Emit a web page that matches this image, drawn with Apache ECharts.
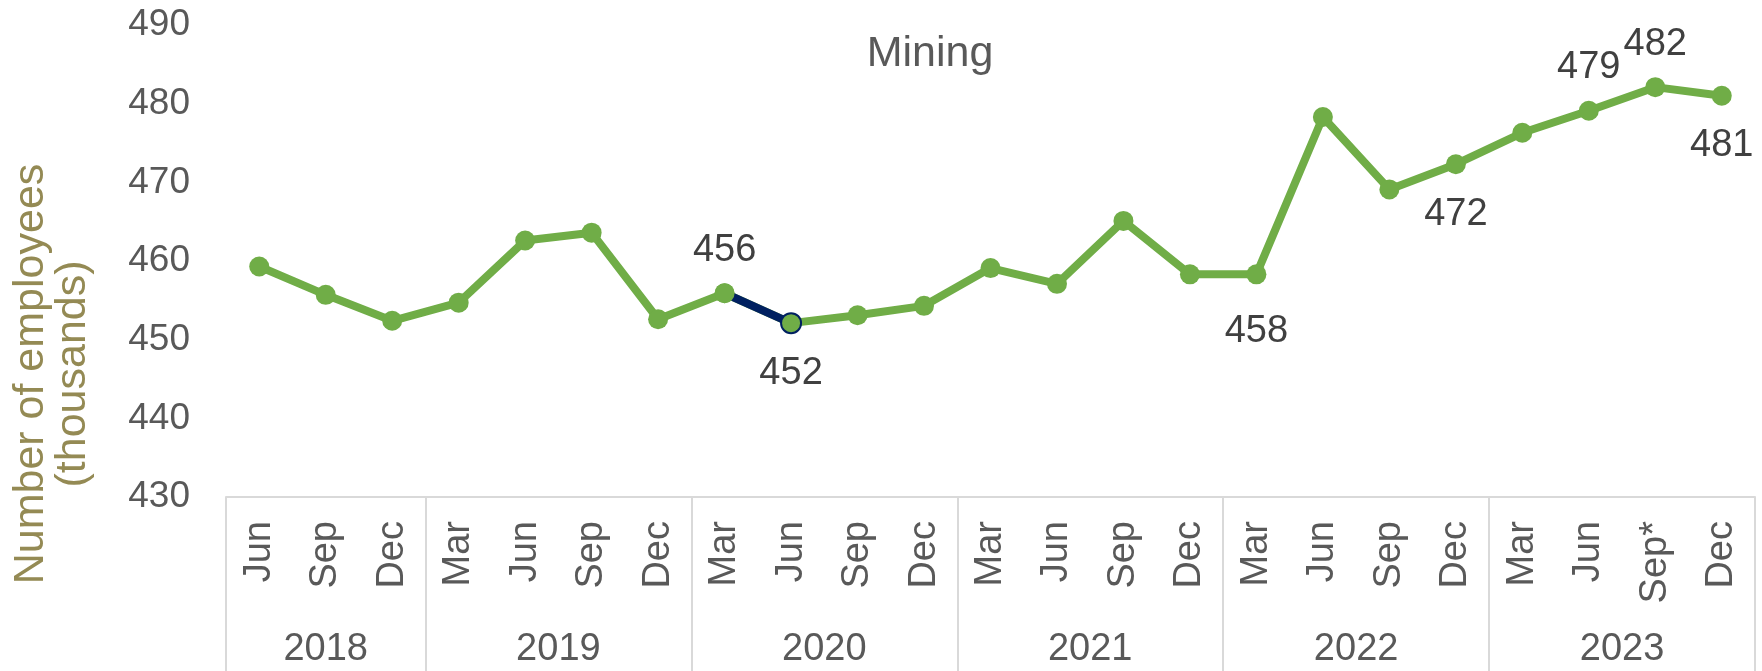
<!DOCTYPE html>
<html>
<head>
<meta charset="utf-8">
<title>Mining</title>
<script src="https://cdn.jsdelivr.net/npm/echarts@6/dist/echarts.min.js"></script>
<style>
	html, body { margin: 0; padding: 0; background: #fff; }
	#echartMain { width: 1762px; height: 671px; }
</style>
</head>
<body>
<div id="echartMain"></div>
<script>
// quarters, one per point
var months = ['Jun', 'Sep', 'Dec',
	'Mar', 'Jun', 'Sep', 'Dec',
	'Mar', 'Jun', 'Sep', 'Dec',
	'Mar', 'Jun', 'Sep', 'Dec',
	'Mar', 'Jun', 'Sep', 'Dec',
	'Mar', 'Jun', 'Sep*', 'Dec'];
var years = ['2018', '2019', '2020', '2021', '2022', '2023'];
var yearSizes = [3, 4, 4, 4, 4, 4];
// number of employees (thousands)
var employees = [459.3, 455.7, 452.4, 454.7, 462.6, 463.6, 452.6,
	455.9, 452.1, 453.1, 454.3,
	459.1, 457.1, 465.1, 458.3,
	458.3, 478.3, 469.1, 472.3,
	476.3, 479.1, 482.1, 481.0];
var yTicks = [430, 440, 450, 460, 470, 480, 490];
// labelled points and the shown value
var labelIdx = [7, 8, 15, 18, 20, 21, 22];
var labelText = ['456', '452', '458', '472', '479', '482', '481'];
// the highlighted segment (Mar 2020 -> Jun 2020)
var highlight = [7, 8];

(function(){

	init();

	function init(){
		initEchart();
	}

	function initEchart(){
		var myChart = echarts.init(document.getElementById('echartMain'));
		var font = 'Liberation Sans, Arial, sans-serif';
		var green = '#70AD47';
		var navy = '#002060';
		var grey = '#595959';
		var lineCol = '#D9D9D9';

		// where each data label sits, and how far from the point
		var labelPos = { 7: 'top', 8: 'bottom', 15: 'bottom', 18: 'bottom', 20: 'top', 21: 'top', 22: 'bottom' };
		var labelGap = { 7: 14, 8: 21, 15: 28, 18: 21, 20: 14, 21: 14, 22: 21 };

		// group boundaries (index of first quarter of each year) and year centres
		var starts = [];
		var mids = {};
		var acc = 0;
		for (var i = 0; i < yearSizes.length; i++) {
			starts.push(acc);
			mids[(acc + yearSizes[i] / 2).toFixed(1)] = years[i];
			acc += yearSizes[i];
		}

		var mainData = employees.map(function(v, i){
			var k = labelIdx.indexOf(i);
			if (k < 0) return v;
			return {
				value: v,
				label: { show: true, position: labelPos[i], distance: labelGap[i], formatter: labelText[k] }
			};
		});

		var hiData = employees.map(function(v, i){
			if (highlight.indexOf(i) < 0) return null;
			var last = i === highlight[highlight.length - 1];
			return {
				value: v,
				itemStyle: { color: green, borderColor: last ? navy : green, borderWidth: last ? 2 : 0 }
			};
		});

		var option = {
			animation: false,
			title: {
				text: 'Mining',
				left: 925,
				top: 28,
				textAlign: 'center',
				textStyle: { fontFamily: font, fontSize: 43, fontWeight: 'normal', color: grey }
			},
			grid: { left: 226, right: 7, top: 25, bottom: 174, containLabel: false },
			xAxis: [
				{
					type: 'category',
					data: months,
					boundaryGap: true,
					axisLine: { lineStyle: { color: lineCol, width: 2 } },
					axisTick: {
						show: true,
						interval: function(index){ return starts.indexOf(index) >= 0; },
						length: 180,
						lineStyle: { color: lineCol, width: 2 }
					},
					axisLabel: {
						interval: 0,
						rotate: 90,
						margin: 24,
						fontFamily: font,
						fontSize: 38,
						color: grey
					}
				},
				{
					// year row under the quarters
					type: 'value',
					position: 'bottom',
					min: 0,
					max: months.length,
					interval: 0.5,
					axisLine: { show: false },
					axisTick: { show: false },
					splitLine: { show: false },
					axisLabel: {
						margin: 134,
						fontFamily: font,
						fontSize: 38,
						color: grey,
						showMinLabel: false,
						showMaxLabel: false,
						formatter: function(v){ return mids[v.toFixed(1)] || ''; }
					}
				}
			],
			yAxis: {
				type: 'value',
				min: yTicks[0],
				max: yTicks[yTicks.length - 1],
				interval: yTicks[1] - yTicks[0],
				axisLine: { show: false },
				axisTick: { show: false },
				splitLine: { show: false },
				axisLabel: { margin: 36, fontFamily: font, fontSize: 37, color: grey }
			},
			graphic: [{
				type: 'text',
				x: 52,
				y: 374,
				rotation: Math.PI / 2,
				style: {
					text: 'Number of employees\n(thousands)',
					fontFamily: font,
					fontSize: 43,
					lineHeight: 42,
					fill: '#948A54',
					align: 'center',
					verticalAlign: 'middle'
				}
			}],
			series: [
				{
					name: 'Mining',
					type: 'line',
					xAxisIndex: 0,
					data: mainData,
					symbol: 'circle',
					symbolSize: 20,
					z: 2,
					lineStyle: { color: green, width: 8 },
					itemStyle: { color: green },
					label: { fontFamily: font, fontSize: 38, color: '#404040' }
				},
				{
					name: 'highlight',
					type: 'line',
					xAxisIndex: 0,
					data: hiData,
					symbol: 'circle',
					symbolSize: 20,
					z: 3,
					connectNulls: false,
					lineStyle: { color: navy, width: 8 },
					itemStyle: { color: green }
				}
			]
		};
		myChart.setOption(option);
	}

})();
</script>
</body>
</html>
